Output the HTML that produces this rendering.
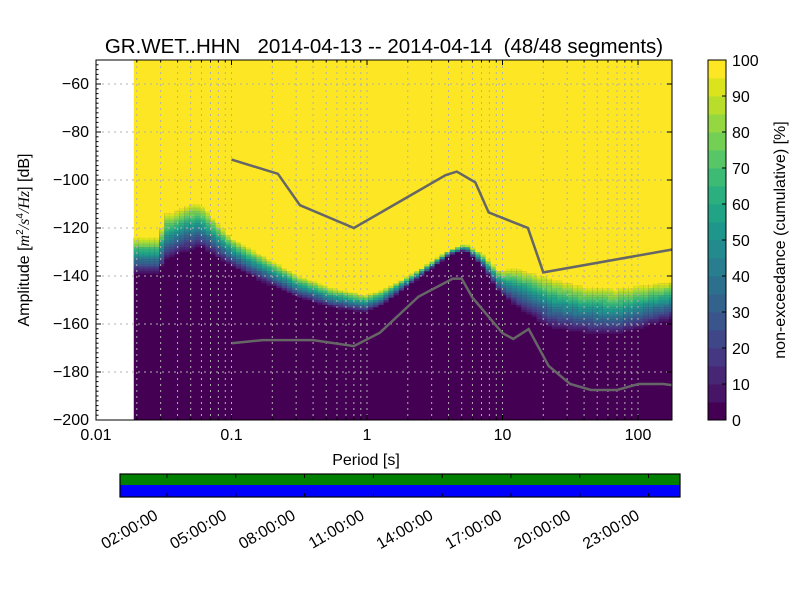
<!DOCTYPE html>
<html><head><meta charset="utf-8"><style>
body{margin:0;background:#fff;}
svg text{font-family:"Liberation Sans","DejaVu Sans",sans-serif;fill:#000;white-space:pre;}
</style></head><body>
<svg id="fig" width="800" height="600" xmlns="http://www.w3.org/2000/svg">
<rect width="800" height="600" fill="#fff"/>
<text x="384" y="53" font-size="20.5" text-anchor="middle" xml:space="preserve">GR.WET..HHN   2014-04-13 -- 2014-04-14  (48/48 segments)</text>
<defs><clipPath id="pc"><rect x="96" y="60" width="576" height="360"/></clipPath></defs>
<g id="heat" clip-path="url(#pc)"></g>
<g id="grid"></g>
<g id="models" clip-path="url(#pc)"></g>
<rect x="96" y="60" width="576" height="360" fill="none" stroke="#000" stroke-width="1"/>
<g id="axes"></g>
<text x="366" y="465" font-size="16" text-anchor="middle">Period [s]</text>
<text transform="translate(29,240) rotate(-90)" font-size="16" text-anchor="middle">Amplitude [<tspan font-style="italic" font-family="Liberation Serif">m</tspan><tspan font-size="10" dy="-6">2</tspan><tspan dy="6" font-style="italic" font-family="Liberation Serif">/s</tspan><tspan font-size="10" dy="-6">4</tspan><tspan dy="6" font-style="italic" font-family="Liberation Serif">/Hz</tspan>] [dB]</text>
<g id="cbar"></g>
<text transform="translate(785,240) rotate(-90)" font-size="16" text-anchor="middle">non-exceedance (cumulative) [%]</text>
<g id="timebar"></g>
</svg>
<script>
// ---- data ----
const knotPeriods = [0.019,0.028,0.031,0.055,0.096,0.17,0.3,0.52,0.93,1.25,2.2,3.9,5.1,6.8,9.1,12,21.5,37,66,178];
const knotLow    = [-140,-140,-135,-129,-137,-144,-150,-154,-156,-153,-142.5,-132,-130,-137,-148,-154,-163,-165,-166,-159];
const knotHigh   = [-124,-124,-114,-109,-124,-132,-140,-145,-148,-146,-138.5,-129.5,-127,-131,-138,-136.5,-140.5,-144,-145,-142];
const nhnmPeriods = [0.1,0.22,0.32,0.8,3.8,4.6,6.3,7.9,15.4,20,354];
const nhnmDb      = [-91.5,-97.4,-110.5,-120,-98,-96.5,-101,-113.5,-120,-138.5,-126];
const nlnmPeriods = [0.1,0.17,0.4,0.8,1.24,2.4,4.3,5,6,10,12,15.6,21.9,31.6,45,70,101,154,328];
const nlnmDb      = [-168,-166.7,-166.7,-169.2,-163.7,-148.6,-141.1,-141.1,-149,-163.8,-166.2,-162.1,-177.5,-185,-187.5,-187.5,-185,-185,-187.5];
const yTicks = [-60,-80,-100,-120,-140,-160,-180,-200];
const xTicks = [0.01,0.1,1,10,100];
const xTickLabels = ["0.01","0.1","1","10","100"];
const cbTicks = [0,10,20,30,40,50,60,70,80,90,100];
const timeLabels = ["02:00:00","05:00:00","08:00:00","11:00:00","14:00:00","17:00:00","20:00:00","23:00:00"];
// ---- scales ----
const X0=96,X1=672,Y0=60,Y1=420;
const xs=p=>X0+(Math.log10(p)+2)*135.5;
const ys=d=>Y0+(-50-d)*2.4;
const NS="http://www.w3.org/2000/svg";
function mk(tag,attrs,parent){const e=document.createElementNS(NS,tag);for(const k in attrs)e.setAttribute(k,attrs[k]);parent.appendChild(e);return e;}
const vir=[[68,1,84],[72,26,108],[71,47,125],[65,68,135],[57,86,140],[49,104,142],[42,120,142],[35,136,142],[31,152,139],[34,168,132],[53,183,121],[84,197,104],[122,209,81],[165,219,54],[210,226,27],[253,231,37]];
function viridis(t){t=Math.max(0,Math.min(1,t));const f=t*(vir.length-1),i=Math.floor(f),r=f-i,a=vir[i],b=vir[Math.min(i+1,vir.length-1)];return `rgb(${a.map((v,k)=>Math.round(v+(b[k]-v)*r)).join(',')})`;}
function lvl(t){if(t<=0)return 'rgb(68,1,84)';if(t>=1)return 'rgb(253,231,37)';return viridis(Math.min(19,Math.floor(t*20))/19);}
function interp(p,arrP,arrV){const lp=Math.log10(p);for(let i=0;i<arrP.length-1;i++){const a=Math.log10(arrP[i]),b=Math.log10(arrP[i+1]);if(lp>=a&&lp<=b){return arrV[i]+(arrV[i+1]-arrV[i])*(lp-a)/(b-a);}}return lp<Math.log10(arrP[0])?arrV[0]:arrV[arrV.length-1];}
// ---- heatmap ----
const heat=document.getElementById('heat');
const step=1/8*Math.log10(2);
for(let lp=Math.log10(knotPeriods[0]);lp<Math.log10(200);lp+=step){
  const p=Math.pow(10,lp), lo=interp(p,knotPeriods,knotLow), hi=interp(p,knotPeriods,knotHigh);
  const x=xs(p), w=xs(Math.pow(10,lp+step))-x+0.6;
  const g=mk('g',{},heat);
  
  
  mk('rect',{x:x,y:ys(hi),width:w,height:ys(-200)-ys(hi)+1,fill:lvl(0)},g);
  mk('rect',{x:x,y:Y0,width:w,height:ys(hi)-Y0+0.5,fill:lvl(1)},g);
  for(let d=Math.floor(lo);d<=Math.ceil(hi);d++){
    const t=(d-lo)/(hi-lo); if(t<=0||t>=1)continue;
    mk('rect',{x:x,y:ys(d+1),width:w,height:2.5,fill:lvl(t)},g);
  }
}
// ---- grid ----
const grid=document.getElementById('grid');
for(let e=-2;e<=2;e++)for(let m=1;m<=9;m++){const p=m*Math.pow(10,e);const x=xs(p);if(x<=X0||x>=X1)continue;
  mk('line',{x1:x,x2:x,y1:Y0,y2:Y1,stroke:'#b0b0b0','stroke-width':1,'stroke-dasharray':'2,4'},grid);}
yTicks.forEach(d=>mk('line',{x1:X0,x2:X1,y1:ys(d),y2:ys(d),stroke:'#b0b0b0','stroke-width':1,'stroke-dasharray':'2,4'},grid));
// ---- models ----
const models=document.getElementById('models');
const hl=mk('polyline',{points:nhnmPeriods.map((p,i)=>xs(p)+','+ys(nhnmDb[i])).join(' '),fill:'none',stroke:'#666','stroke-width':2.5},models);


const ll=mk('polyline',{points:nlnmPeriods.map((p,i)=>xs(p)+','+ys(nlnmDb[i])).join(' '),fill:'none',stroke:'#666','stroke-width':2.5},models);


// ---- axes ----
const axes=document.getElementById('axes');
yTicks.forEach(d=>{const y=ys(d);
  mk('line',{x1:X0,x2:X0+5,y1:y,y2:y,stroke:'#000'},axes);mk('line',{x1:X1,x2:X1-5,y1:y,y2:y,stroke:'#000'},axes);
  const t=mk('text',{x:X0-7,y:y+5,'font-size':16,'text-anchor':'end'},axes);t.textContent=String(d).replace('-','\u2212');
  
  });
for(let d=-50;d>=-200;d-=2){const y=ys(d);mk('line',{x1:X0,x2:X0+2.5,y1:y,y2:y,stroke:'#000'},axes);}
xTicks.forEach((p,i)=>{const x=xs(p);
  mk('line',{x1:x,x2:x,y1:Y1,y2:Y1-5,stroke:'#000'},axes);mk('line',{x1:x,x2:x,y1:Y0,y2:Y0+5,stroke:'#000'},axes);
  const t=mk('text',{x:x,y:Y1+20,'font-size':16,'text-anchor':'middle'},axes);t.textContent=xTickLabels[i];
  
  });
for(let e=-2;e<=2;e++)for(let m=2;m<=9;m++){const x=xs(m*Math.pow(10,e));if(x>=X1)continue;
  mk('line',{x1:x,x2:x,y1:Y1,y2:Y1-2.5,stroke:'#000'},axes);mk('line',{x1:x,x2:x,y1:Y0,y2:Y0+2.5,stroke:'#000'},axes);}
// ---- colorbar ----
const cb=document.getElementById('cbar');
for(let i=0;i<20;i++){mk('rect',{x:708,y:420-(i+1)*18,width:18,height:18.4,fill:viridis(i/19)},cb);}
mk('rect',{x:708,y:60,width:18,height:360,fill:'none',stroke:'#000'},cb);
cbTicks.forEach(v=>{const y=420-v*3.6;mk('line',{x1:722,x2:726,y1:y,y2:y,stroke:'#000'},cb);
  const t=mk('text',{x:732,y:y+6,'font-size':16},cb);t.textContent=v;
  
  });
// ---- time bar ----
const tb=document.getElementById('timebar');
mk('rect',{x:120,y:474,width:560,height:11,fill:'#008000'},tb);
mk('rect',{x:120,y:485,width:560,height:12,fill:'#0000ff'},tb);
mk('rect',{x:120,y:474,width:560,height:23,fill:'none',stroke:'#000','stroke-width':1.2},tb);
timeLabels.forEach((s,i)=>{const x=167+i*68.8;
  mk('line',{x1:x,x2:x,y1:474,y2:478,stroke:'#000'},tb);mk('line',{x1:x,x2:x,y1:497,y2:493,stroke:'#000'},tb);
  const t=mk('text',{transform:`translate(${x-14},${508}) rotate(-30)`,'font-size':16,'text-anchor':'end',y:12},tb);t.textContent=s;
  
  });
</script>
</body></html>
